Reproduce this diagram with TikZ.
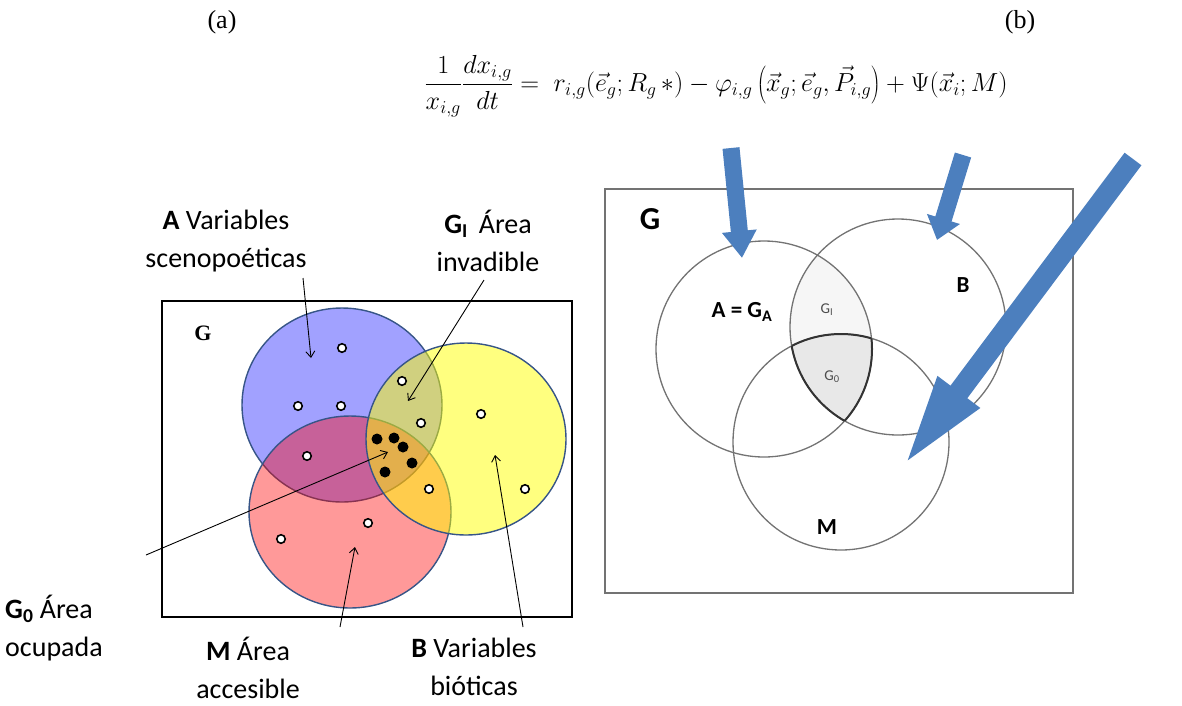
\documentclass[tikz,border=0pt]{standalone}
\usepackage{graphicx}
\usepackage{fontspec}
\setmainfont{Carlito}
\newfontfamily\timesf{Liberation Serif}
\usetikzlibrary{arrows.meta}
\definecolor{vborder}{RGB}{55,85,135}
\definecolor{arrowblue}{RGB}{76,127,190}
\definecolor{rgray}{RGB}{115,115,115}
\definecolor{gifill}{RGB}{246,246,246}
\definecolor{gzfill}{RGB}{232,232,232}
\begin{document}
\begin{tikzpicture}[x=1pt,y=-1pt,
  lbl/.style={font=\fontsize{28}{38}\selectfont, align=center, inner sep=0pt},
  thinarrow/.style={draw=black, line width=0.9pt, -{Straight Barb[length=6pt,width=9pt]}},
  wdot/.style={circle, draw=black, fill=white, line width=1.6pt, minimum size=8.5pt, inner sep=0pt},
  bdot/.style={circle, fill=black, minimum size=11pt, inner sep=0pt},
  vcirc/.style={draw=vborder, line width=1.4pt},
  rcirc/.style={draw=rgray, line width=1.3pt},
  rlbl/.style={font=\fontsize{23}{26}\selectfont\bfseries, inner sep=0pt},
  smallg/.style={font=\fontsize{15}{16}\selectfont, text=black!70, inner sep=0pt},
  bigarrow/.style={draw=arrowblue, line cap=butt}
]
\useasboundingbox (0,0) rectangle (1182,705);

% ---------- titles ----------
\node[font=\timesf\fontsize{26}{28}\selectfont] (ta) at (222,22) {(a)};
\node[font=\timesf\fontsize{26}{28}\selectfont] (tb) at (1020,22) {(b)};
\node[inner sep=0pt] (eq) at (716,86) {\resizebox{583pt}{!}{\fontsize{24}{28}\selectfont
  $\displaystyle \frac{1}{x_{i,g}}\frac{dx_{i,g}}{dt}=\; r_{i,g}(\vec{e}_g;R_g\,*) - \varphi_{i,g}\left(\vec{x}_g;\vec{e}_g,\vec{P}_{i,g}\right) + \Psi(\vec{x}_i;M)$}};

% ---------- panel (a) ----------
\draw[line width=2.5pt] (162,301) rectangle (572,617);
\node[font=\timesf\bfseries\fontsize{22}{24}\selectfont] (ga) at (203,333) {G};

\filldraw[vcirc, fill={rgb,255:red,0;green,0;blue,255}, fill opacity=0.37] (342,405) ellipse [x radius=100, y radius=97];
\filldraw[vcirc, fill={rgb,255:red,255;green,0;blue,0}, fill opacity=0.4] (350,512) ellipse [x radius=101, y radius=96];
\filldraw[vcirc, fill={rgb,255:red,255;green,255;blue,0}, fill opacity=0.5] (466,439) ellipse [x radius=100, y radius=96];

\node[wdot] (w1) at (342,348) {};
\node[wdot] (w2) at (298,406) {};
\node[wdot] (w3) at (341,406) {};
\node[wdot] (w4) at (402,381) {};
\node[wdot] (w5) at (421,423) {};
\node[wdot] (w6) at (481,414) {};
\node[wdot] (w7) at (307,456) {};
\node[wdot] (w8) at (429,489) {};
\node[wdot] (w9) at (525,489) {};
\node[wdot] (w10) at (368,523) {};
\node[wdot] (w11) at (281,539) {};
\node[bdot] (k1) at (377,439) {};
\node[bdot] (k2) at (394,438) {};
\node[bdot] (k3) at (403,447) {};
\node[bdot] (k4) at (412,463) {};
\node[bdot] (k5) at (385,472) {};

\node[lbl] (la) at (226,241) {\textbf{A} Variables\\scenopoéticas};
\node[lbl] (lgi) at (488,241) {\textbf{G\textsubscript{I}}\, Área\\invadible};
\node[lbl, align=left, anchor=west] (lg0) at (5,628) {\textbf{G\textsubscript{0}} Área\\ocupada};
\node[lbl] (lm) at (248,668) {\textbf{M} Área\\accesible};
\node[lbl] (lb) at (474,667) {\textbf{B} Variables\\bióticas};

\coordinate (aS) at (303,278);  \coordinate (aE) at (311,358);
\coordinate (giS) at (484,280); \coordinate (giE) at (408,401);
\coordinate (g0S) at (146,555); \coordinate (g0E) at (388,452);
\coordinate (mS) at (340,627);  \coordinate (mE) at (355,547);
\coordinate (bS) at (523,627);  \coordinate (bE) at (495,455);
\draw[thinarrow] (aS) -- (aE);
\draw[thinarrow] (giS) -- (giE);
\draw[thinarrow] (g0S) -- (g0E);
\draw[thinarrow] (mS) -- (mE);
\draw[thinarrow] (bS) -- (bE);

% ---------- panel (b) ----------
\draw[draw=rgray, line width=1.5pt] (605,189) rectangle (1073,593);
\node[font=\fontsize{32}{34}\selectfont\bfseries] (gb) at (650,219) {G};

\coordinate (cA) at (764,349);
\coordinate (cB) at (898,327);
\coordinate (cM) at (841,442);
\begin{scope}
  \clip (cA) circle (108);
  \clip (cB) circle (108);
  \fill[gifill] (cB) circle (108);
  \fill[gzfill] (cM) circle (108);
\end{scope}
\draw[rcirc] (cA) circle (108);
\draw[rcirc] (cB) circle (108);
\draw[rcirc] (cM) circle (108);
\begin{scope}
  \clip (cB) circle (108); \clip (cM) circle (108);
  \draw[draw=black!80, line width=2pt] (cA) circle (108);
\end{scope}
\begin{scope}
  \clip (cA) circle (108); \clip (cM) circle (108);
  \draw[draw=black!80, line width=2pt] (cB) circle (108);
\end{scope}
\begin{scope}
  \clip (cA) circle (108); \clip (cB) circle (108);
  \draw[draw=black!80, line width=2pt] (cM) circle (108);
\end{scope}

\node[rlbl] (lA) at (742,312) {A = G\textsubscript{A}};
\node[rlbl] (lB) at (963,285) {B};
\node[rlbl] (lM) at (827,527) {M};
\node[smallg] (lGI) at (827,310) {G\textsubscript{I}};
\node[smallg] (lG0) at (832,377) {G\textsubscript{0}};

\coordinate (ar1S) at (731,148); \coordinate (ar1E) at (742,258);
\coordinate (ar2S) at (963,155); \coordinate (ar2E) at (937,240);
\coordinate (ar3S) at (1133,159); \coordinate (ar3E) at (902,468);
\draw[bigarrow, line width=17pt, -{Triangle[length=27pt,width=33pt]}] (ar1S) -- (ar1E);
\draw[bigarrow, line width=17pt, -{Triangle[length=22pt,width=33pt]}] (ar2S) -- (ar2E);
\draw[bigarrow, line width=21pt, -{Triangle[length=95pt,width=46pt]}] (ar3S) -- (ar3E);
\end{tikzpicture}
\end{document}
